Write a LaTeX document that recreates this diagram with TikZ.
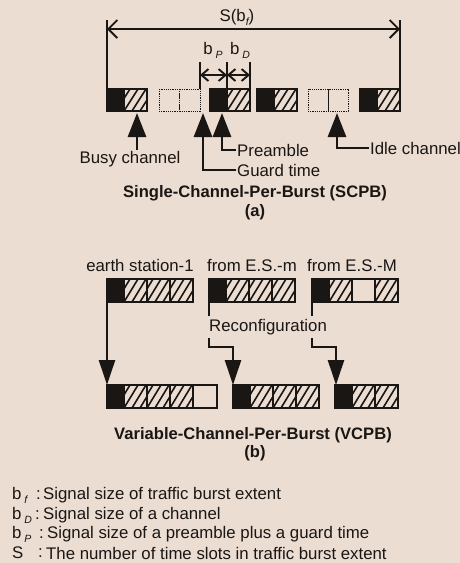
\documentclass[tikz,border=0pt]{standalone}
\usepackage{fontspec}
\setmainfont{Liberation Sans}
\usetikzlibrary{arrows.meta}
\definecolor{bg}{RGB}{236,221,211}
\definecolor{ink}{RGB}{25,22,20}
\newcommand\sbs[1]{\raisebox{-0.45ex}{\fontsize{10.5}{10.5}\selectfont\itshape #1}}
\newcommand\hcell[4]{%
 \begin{scope}
 \clip (#1,#2) rectangle ++(#3,#4);
 \foreach \k in {-2,...,3} \draw[hatchline] ({#1+\k*8},{#2+#4}) -- ++(14,{-#4});
 \end{scope}
 \draw[cellline] (#1,#2) rectangle ++(#3,#4);}
\newcommand\bcell[4]{\fill[ink] (#1,#2) rectangle ++(#3,#4);\draw[cellline] (#1,#2) rectangle ++(#3,#4);}
\newcommand\ecell[4]{\draw[cellline] (#1,#2) rectangle ++(#3,#4);}
\newcommand\icell[4]{\draw[idleline] (#1,#2) rectangle ++(#3,#4);}
\begin{document}
\begin{tikzpicture}[x=1pt,y=-1pt,
 hatchline/.style={line width=1.6pt, draw=ink},
 cellline/.style={line width=1.6pt, draw=ink},
 idleline/.style={line width=1pt, draw=ink, dash pattern=on 1.2pt off 1pt},
 dimline/.style={line width=1.9pt, draw=ink},
 dimarrow/.style={dimline, {Straight Barb[length=9pt,width=18pt]}-{Straight Barb[length=9pt,width=18pt]}},
 smallarrow/.style={dimline,{Straight Barb[length=7pt,width=12pt]}-{Straight Barb[length=7pt,width=12pt]}},
 uparrow/.style={draw=ink, line width=2.8pt, -{Triangle[length=24pt,width=18pt]}},
 downarrow/.style={draw=ink, line width=2.5pt, -{Triangle[length=25pt,width=16pt]}},
 lbl/.style={font=\fontsize{16.8}{16.8}\selectfont, text=ink, inner sep=1pt},
 ttl/.style={font=\fontsize{16.6}{16.6}\selectfont\bfseries, text=ink, inner sep=1pt},
]
\fill[bg] (0,0) rectangle (460,563);
\useasboundingbox (0,0) rectangle (460,563);

% ---------- (a) blocks
\bcell{107}{89}{17}{22}\hcell{124}{89}{23}{22}
\icell{159}{89}{20.5}{22}\icell{179.5}{89}{20.5}{22}
\bcell{210}{89}{17}{22}\hcell{227}{89}{23}{22}
\bcell{257}{89}{17}{22}\hcell{274}{89}{23}{22}
\icell{308}{89}{20}{22}\icell{328}{89}{20}{22}
\bcell{360}{89}{17}{22}\hcell{377}{89}{23}{22}

% ---------- S(b_f) dimension
\coordinate (sLt) at (107,20); \coordinate (sLb) at (107,89);
\coordinate (sRt) at (400,20); \coordinate (sRb) at (400,89);
\coordinate (sL) at (107,29); \coordinate (sR) at (400,29);
\draw[dimline] (sLt) -- (sLb);
\draw[dimline] (sRt) -- (sRb);
\draw[dimarrow] (sL) -- (sR);
\node[lbl] (slbl) at (237,17) {S(b\sbs{f})};

% ---------- b_P, b_D dimension
\coordinate (pT) at (200,62); \coordinate (pB) at (200,89);
\coordinate (mT) at (227,62); \coordinate (mB) at (227,89);
\coordinate (dT) at (250,62); \coordinate (dB) at (250,89);
\draw[dimline] (pT) -- (pB);
\draw[dimline] (mT) -- (mB);
\draw[dimline] (dT) -- (dB);
\coordinate (pA) at (200,75); \coordinate (mA) at (227,75); \coordinate (dA) at (250,75);
\draw[smallarrow] (pA) -- (mA);
\draw[smallarrow] (mA) -- (dA);
\node[lbl] (bplbl) at (213,50) {b\,\sbs{P}};
\node[lbl] (bdlbl) at (240,50) {b\,\sbs{D}};

% ---------- pointer arrows (a)
\coordinate (tBusy) at (137,113);
\coordinate (tGuard) at (203,113);
\coordinate (tPre) at (222,113);
\coordinate (tIdle) at (337,113);
\node[lbl,anchor=north] (busy) at (130,150) {Busy channel};
\node[lbl,anchor=west] (pre) at (236,150) {Preamble};
\node[lbl,anchor=west] (guard) at (236,170) {Guard time};
\node[lbl,anchor=west] (idle) at (369,148) {Idle channel};
\draw[uparrow] (busy.north -| tBusy) -- (tBusy);
\draw[uparrow] (pre.west) -| (tPre);
\draw[uparrow] (guard.west) -| (tGuard);
\draw[uparrow] (idle.west) -| (tIdle);

\node[ttl] (ttla) at (255,193) {Single-Channel-Per-Burst (SCPB)};
\node[ttl] (capa) at (255,212) {(a)};

% ---------- (b)
\node[lbl] (es1) at (140,265) {earth station-1};
\node[lbl] (esm) at (252,265) {from E.S.-m};
\node[lbl] (esM) at (352,265) {from E.S.-M};

\bcell{107}{279}{17}{23}\hcell{124}{279}{23}{23}\hcell{147}{279}{23}{23}\hcell{170}{279}{23}{23}
\bcell{209}{279}{17}{23}\hcell{226}{279}{23}{23}\hcell{249}{279}{23}{23}\hcell{272}{279}{23}{23}
\bcell{312}{279}{17}{23}\hcell{329}{279}{23}{23}\ecell{352}{279}{23}{23}\hcell{375}{279}{23}{23}

\bcell{107}{385}{17}{23}\hcell{124}{385}{23}{23}\hcell{147}{385}{23}{23}\hcell{170}{385}{23}{23}\ecell{193}{385}{24}{23}
\bcell{233}{385}{17}{23}\hcell{250}{385}{23}{23}\hcell{273}{385}{23}{23}\hcell{296}{385}{23}{23}
\bcell{335}{385}{17}{23}\hcell{352}{385}{23}{23}\hcell{375}{385}{23}{23}

\coordinate (aTop) at (107,302); \coordinate (dTop) at (107,385);
\coordinate (bTop) at (209,302); \coordinate (eTop) at (233,385);
\coordinate (cTop) at (312,302); \coordinate (fTop) at (336,385);
\coordinate (bBend) at (209,347); \coordinate (cBend) at (312,347);
\draw[downarrow] (aTop) -- (dTop);
\draw[downarrow] (bTop) -- (bBend) -| (eTop);
\draw[downarrow] (cTop) -- (cBend) -| (fTop);
\node[lbl, fill=bg, inner xsep=2pt, inner ysep=3pt, anchor=west] (reconf) at (207,327) {Reconfiguration};

\node[ttl] (ttlb) at (253,435) {Variable-Channel-Per-Burst (VCPB)};
\node[ttl] (capb) at (255,453) {(b)};

% ---------- legend
\node[lbl,anchor=west] (k1) at (11,495) {b\,\sbs{f}};
\node[lbl,anchor=west] (c1) at (35,495) {:};
\node[lbl,anchor=west] (v1) at (42,495) {Signal size of traffic burst extent};
\node[lbl,anchor=west] (k2) at (11,515) {b\,\sbs{D}};
\node[lbl,anchor=west] (c2) at (34,515) {:};
\node[lbl,anchor=west] (v2) at (42,515) {Signal size of a channel};
\node[lbl,anchor=west] (k3) at (11,534) {b\,\sbs{P}};
\node[lbl,anchor=west] (c3) at (38,534) {:};
\node[lbl,anchor=west] (v3) at (46,534) {Signal size of a preamble plus a guard time};
\node[lbl,anchor=west] (k4) at (11,553) {S};
\node[lbl,anchor=west] (c4) at (37,553) {:};
\node[lbl,anchor=west] (v4) at (45,553) {The number of time slots in traffic burst extent};
\end{tikzpicture}
\end{document}
